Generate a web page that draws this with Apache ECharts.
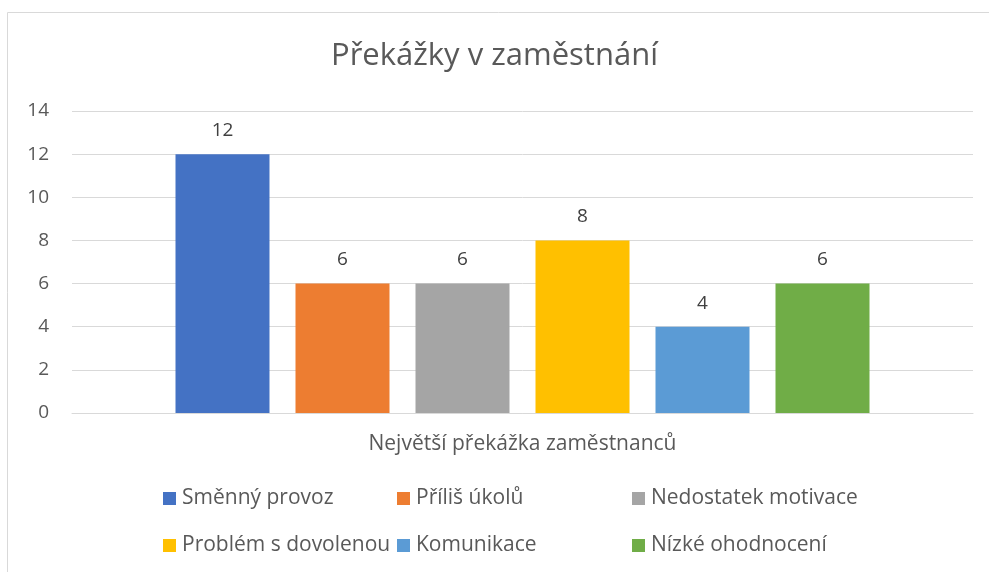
<!DOCTYPE html>
<html><head><meta charset="utf-8">
<script src="https://cdn.jsdelivr.net/npm/echarts@6/dist/echarts.min.js"></script>
<style>html,body{margin:0;padding:0;background:#fff}#c{width:989px;height:572px}</style>
</head><body><div id="c"></div>
<script>
const categories = ['Největší překážka zaměstnanců'];
const seriesNames = ['Směnný provoz','Příliš úkolů','Nedostatek motivace','Problém s dovolenou','Komunikace','Nízké ohodnocení'];
const seriesValues = [12, 6, 6, 8, 4, 6];
const colors = ['#4472C4','#ED7D31','#A5A5A5','#FFC000','#5B9BD5','#70AD47'];
const yTicks = [0, 2, 4, 6, 8, 10, 12, 14];

const FONT = 'Open Sans';
const legendPos = [[163,488],[397,488],[632,488],[163,535],[397,535],[632,535]];

const chart = echarts.init(document.getElementById('c'));
chart.setOption({
  animation: false,
  title: { text: 'Překážky v zaměstnání', left: 'center', top: 36,
    textStyle: { fontFamily: FONT, fontSize: 31, fontWeight: 'normal', color: '#595959' } },
  graphic: [{ type: 'rect', shape: { x: 7.5, y: 12.5, width: 1000, height: 600 },
    style: { fill: 'none', stroke: '#d9d9d9', lineWidth: 1 }, silent: true }],
  grid: { left: 72, right: 16, top: 111, bottom: 159 },
  xAxis: { type: 'category', data: categories,
    axisLine: { lineStyle: { color: '#d9d9d9', width: 1 } }, axisTick: { show: false },
    axisLabel: { margin: 21, fontFamily: FONT, fontSize: 21, color: '#595959' } },
  yAxis: { type: 'value', min: yTicks[0], max: yTicks[yTicks.length-1], interval: 2,
    axisLine: { show: false }, axisTick: { show: false },
    splitLine: { lineStyle: { color: '#d9d9d9', width: 1 } },
    axisLabel: { margin: 23, fontFamily: FONT, fontSize: 19, color: '#595959' } },
  legend: seriesNames.map((n, i) => ({ data: [n], left: legendPos[i][0], top: legendPos[i][1],
    icon: 'rect', itemWidth: 13, itemHeight: 13, itemGap: 5, padding: 0,
    textStyle: { fontFamily: FONT, fontSize: 21, color: '#595959', padding: [0,0,0,1] } })),
  series: seriesNames.map((n, i) => ({
    name: n, type: 'bar', data: [seriesValues[i]], barWidth: 94, barGap: '27.66%',
    itemStyle: { color: colors[i] },
    label: { show: true, position: 'top', distance: 14, fontFamily: FONT, fontSize: 19, color: '#404040' }
  }))
});
</script></body></html>
